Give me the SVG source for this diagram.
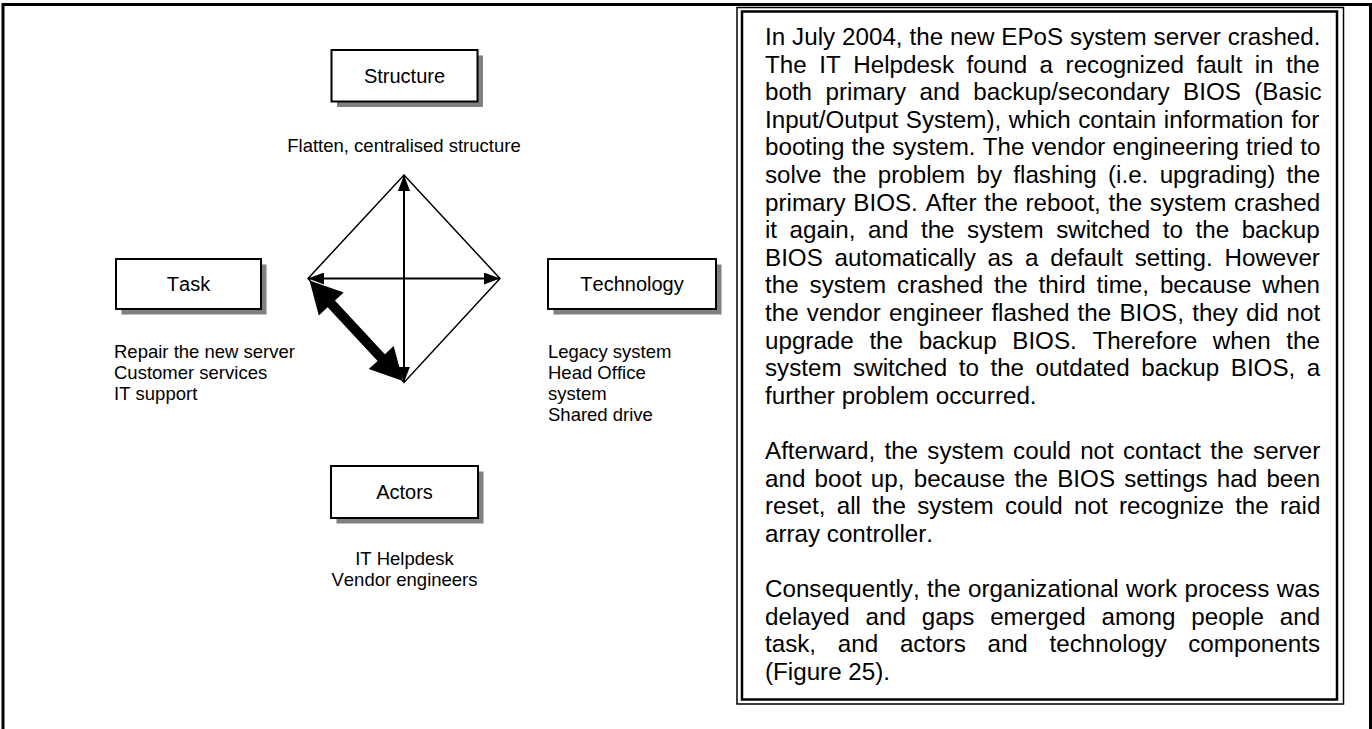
<svg xmlns="http://www.w3.org/2000/svg" width="1372" height="729" viewBox="0 0 1372 729">
<style>
text { font-family: "Liberation Sans", Arial, sans-serif; fill: #000; font-kerning: none; }
.lbl { font-size: 20px; text-anchor: middle; }
.sub { font-size: 18.5px; }
.mid { text-anchor: middle; }
.body { font-size: 24.2px; }
.box { fill: #fff; stroke: #000; stroke-width: 2; }
.shadow { fill: #808080; }
.thin { fill: none; stroke: #000; stroke-width: 1.5; }
.arr { stroke: #000; stroke-width: 2; fill: none; marker-start: url(#ah); marker-end: url(#ah); }
</style>
<defs>
<marker id="ah" viewBox="0 0 16 12" refX="16" refY="6" markerWidth="16" markerHeight="12" markerUnits="userSpaceOnUse" orient="auto-start-reverse">
<path d="M0,0 L16,6 L0,12 Z" fill="#000"/>
</marker>
</defs>
<rect width="1372" height="729" fill="#fff"/>
<g id="frame">
<path d="M3,735 V4.5 H1370.5 V735" fill="none" stroke="#000" stroke-width="3"/>
</g>
<g id="textbox">
<rect x="737" y="7.5" width="606.5" height="696.5" fill="none" stroke="#000" stroke-width="1.5"/>
<rect x="742" y="11.5" width="595" height="688" fill="none" stroke="#000" stroke-width="2.5"/>
<g class="body">
<text x="765" y="45" class="body" word-spacing="0.2">In July 2004, the new EPoS system server crashed.</text>
<text x="765" y="72.6" class="body" word-spacing="5.8">The IT Helpdesk found a recognized fault in the</text>
<text x="765" y="100.2" class="body" word-spacing="6.7">both primary and backup/secondary BIOS (Basic</text>
<text x="765" y="127.8" class="body" word-spacing="0.9">Input/Output System), which contain information for</text>
<text x="765" y="155.4" class="body" word-spacing="0.4">booting the system. The vendor engineering tried to</text>
<text x="765" y="183" class="body" word-spacing="4.6">solve the problem by flashing (i.e. upgrading) the</text>
<text x="765" y="210.6" class="body" word-spacing="0.95">primary BIOS. After the reboot, the system crashed</text>
<text x="765" y="238.2" class="body" word-spacing="5.8">it again, and the system switched to the backup</text>
<text x="765" y="265.8" class="body" word-spacing="5.1">BIOS automatically as a default setting. However</text>
<text x="765" y="293.4" class="body" word-spacing="4.2">the system crashed the third time, because when</text>
<text x="765" y="321" class="body" word-spacing="1.5">the vendor engineer flashed the BIOS, they did not</text>
<text x="765" y="348.6" class="body" word-spacing="8.9">upgrade the backup BIOS. Therefore when the</text>
<text x="765" y="376.2" class="body" word-spacing="4.8">system switched to the outdated backup BIOS, a</text>
<text x="765" y="403.8" class="body">further problem occurred.</text>
<text x="765" y="459" class="body" word-spacing="2.5">Afterward, the system could not contact the server</text>
<text x="765" y="486.6" class="body" word-spacing="2.5">and boot up, because the BIOS settings had been</text>
<text x="765" y="514.2" class="body" word-spacing="4.55">reset, all the system could not recognize the raid</text>
<text x="765" y="541.8" class="body">array controller.</text>
<text x="765" y="597" class="body" word-spacing="0.7">Consequently, the organizational work process was</text>
<text x="765" y="624.6" class="body" word-spacing="9.15">delayed and gaps emerged among people and</text>
<text x="765" y="652.2" class="body" word-spacing="15">task, and actors and technology components</text>
<text x="765" y="679.8" class="body">(Figure 25).</text>
</g>
</g>
<g id="connectors">
<polygon points="404,175 500,278.5 404,382.5 308,278.5" class="thin"/>
<line x1="404" y1="382.5" x2="404" y2="175" class="arr"/>
<line x1="308" y1="278.5" x2="500" y2="278.5" class="arr"/>
<polygon points="309.5,280.5 343.74,292.38 334.94,300.55 384.88,354.15 393.68,345.98 403,381 368.76,369.12 377.56,360.95 327.62,307.35 318.82,315.52" fill="#000"/>
</g>
<g id="node-structure">
<rect x="337" y="55.5" width="146" height="51.5" class="shadow"/>
<rect x="331.5" y="50" width="146" height="51.5" class="box"/>
<text x="404.5" y="83" class="lbl">Structure</text>
<text x="404" y="152" class="sub mid">Flatten, centralised structure</text>
</g>
<g id="node-task">
<rect x="121.5" y="264.5" width="145" height="50" class="shadow"/>
<rect x="116" y="259" width="145" height="50" class="box"/>
<text x="188.5" y="291" class="lbl">Task</text>
<text class="sub"><tspan x="114" y="358">Repair the new server</tspan><tspan x="114" y="379">Customer services</tspan><tspan x="114" y="400">IT support</tspan></text>
</g>
<g id="node-technology">
<rect x="553.5" y="264.5" width="168" height="50" class="shadow"/>
<rect x="548" y="259" width="168" height="50" class="box"/>
<text x="632" y="291" class="lbl">Technology</text>
<text class="sub"><tspan x="548" y="358">Legacy system</tspan><tspan x="548" y="379">Head Office</tspan><tspan x="548" y="400">system</tspan><tspan x="548" y="421">Shared drive</tspan></text>
</g>
<g id="node-actors">
<rect x="336.5" y="471.5" width="147" height="52" class="shadow"/>
<rect x="331" y="466" width="147" height="52" class="box"/>
<text x="404.5" y="499" class="lbl">Actors</text>
<text class="sub mid"><tspan x="404.5" y="565">IT Helpdesk</tspan><tspan x="404.5" y="586">Vendor engineers</tspan></text>
</g>
</svg>
